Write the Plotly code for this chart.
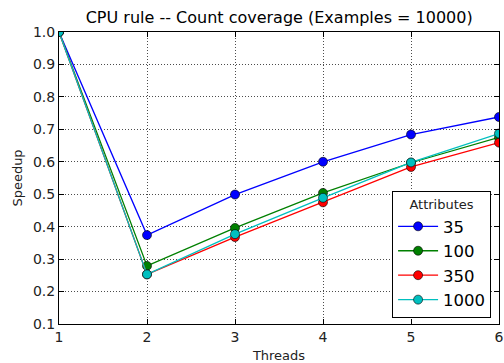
import plotly.graph_objects as go

threads = [1, 2, 3, 4, 5, 6]
attributes = ["35", "100", "350", "1000"]
speedup_35 = [1.0, 0.374, 0.499, 0.600, 0.684, 0.738]
speedup_100 = [1.0, 0.279, 0.396, 0.504, 0.597, 0.675]
speedup_350 = [1.0, 0.253, 0.368, 0.475, 0.584, 0.659]
speedup_1000 = [1.0, 0.253, 0.377, 0.489, 0.598, 0.687]
series = [speedup_35, speedup_100, speedup_350, speedup_1000]
colors = ["#0000ff", "#008000", "#ff0000", "#00bfbf"]

x_ticks = [1, 2, 3, 4, 5, 6]
y_ticks = [0.1, 0.2, 0.3, 0.4, 0.5, 0.6, 0.7, 0.8, 0.9, 1.0]
y_labels = [f"{v:.1f}" for v in y_ticks]

font = "DejaVu Sans"

fig = go.Figure()
for name, vals, col in zip(attributes, series, colors):
    fig.add_trace(go.Scatter(
        x=threads, y=vals, name=name, mode="lines+markers",
        line=dict(color=col, width=1.3),
        marker=dict(symbol="circle", size=9, color=col,
                    line=dict(color="black", width=0.6)),
    ))

axis_common = dict(
    showline=True, linecolor="black", linewidth=1, mirror="ticks",
    ticks="inside", ticklen=5, tickcolor="black", automargin=False,
    showgrid=True, gridcolor="rgba(0,0,0,0.7)", gridwidth=1, griddash="1px,2px",
    zeroline=False, tickfont=dict(family=font, size=14, color="#222"),
)

fig.update_layout(
    width=504, height=363,
    margin=dict(l=59, r=5, t=32, b=39),
    paper_bgcolor="white", plot_bgcolor="white",
    title=dict(text="CPU rule -- Count coverage (Examples = 10000)",
               x=0.554, xanchor="center", y=0.953, yanchor="middle",
               font=dict(family=font, size=16, color="black")),
    xaxis=dict(range=[1, 6], tickvals=x_ticks,
               title=dict(text="Threads", standoff=7,
                          font=dict(family=font, size=13, color="#222")),
               **axis_common),
    yaxis=dict(range=[0.1, 1.0], tickvals=y_ticks, ticktext=y_labels,
               title=dict(text="Speedup", standoff=7,
                          font=dict(family=font, size=13, color="#222")),
               **axis_common),
    legend=dict(
        title=dict(text="Attributes", side="top center",
                   font=dict(family=font, size=13, color="#222")),
        x=0.982, xanchor="right", y=0.02, yanchor="bottom",
        bgcolor="white", bordercolor="black", borderwidth=1,
        font=dict(family=font, size=16.5, color="black"),
        itemwidth=40, tracegroupgap=0,
    ),
    showlegend=True,
)

fig.write_html("out.html")
